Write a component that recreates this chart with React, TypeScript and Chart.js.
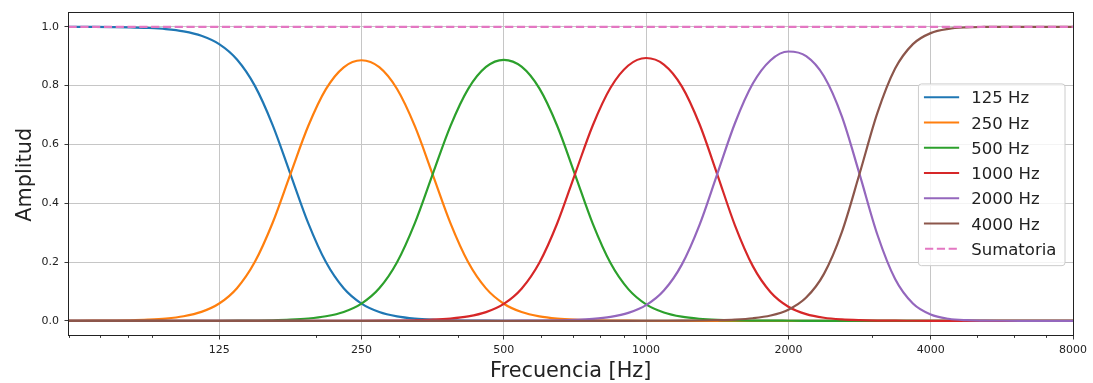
import React, { useEffect, useRef } from 'react';
import { Chart, registerables } from 'chart.js';

Chart.register(...registerables);

// ---------- data ----------
// frequency axis (Hz): 60 Hz, then 1/8-octave steps from 62.5 Hz up to 8000 Hz
const FREQS = [
  60,
  62.5, 68.16, 74.33, 81.05, 88.39, 96.39, 105.11, 114.63,
  125, 136.31, 148.65, 162.11, 176.78, 192.78, 210.22, 229.25,
  250, 272.63, 297.3, 324.21, 353.55, 385.55, 420.45, 458.5,
  500, 545.25, 594.6, 648.42, 707.11, 771.11, 840.9, 917.0,
  1000, 1090.5, 1189.2, 1296.8, 1414.2, 1542.2, 1681.8, 1834.0,
  2000, 2181.0, 2378.4, 2593.7, 2828.4, 3084.4, 3363.6, 3668.0,
  4000, 4362.0, 4756.8, 5187.4, 5656.9, 6168.8, 6727.2, 7336.0,
  8000,
];

const BAND_125 = [
  0.9998,
  0.9998, 0.9995, 0.999, 0.9981, 0.9961, 0.9923, 0.9846, 0.9697,
  0.9412, 0.8889, 0.8, 0.6667, 0.5, 0.3332, 0.1998, 0.1109,
  0.0587, 0.0302, 0.0153, 0.0077, 0.0039, 0.0019, 0.001, 0.0005,
  0.0002, 0.0001, 0, 0, 0, 0, 0, 0,
  0, 0, 0, 0, 0, 0, 0, 0,
  0, 0, 0, 0, 0, 0, 0, 0,
  0, 0, 0, 0, 0, 0, 0, 0,
  0,
];

const BAND_250 = [
  0.0002,
  0.0002, 0.0005, 0.001, 0.0019, 0.0039, 0.0077, 0.0154, 0.0303,
  0.0588, 0.111, 0.1998, 0.3327, 0.4981, 0.6616, 0.7879, 0.8623,
  0.8862, 0.8625, 0.7883, 0.662, 0.4981, 0.3322, 0.199, 0.1102,
  0.0581, 0.0298, 0.015, 0.0075, 0.0037, 0.0018, 0.0009, 0.0004,
  0.0002, 0, 0, 0, 0, 0, 0, 0,
  0, 0, 0, 0, 0, 0, 0, 0,
  0, 0, 0, 0, 0, 0, 0, 0,
  0,
];

const BAND_500 = [
  0,
  0, 0, 0, 0, 0, 0, 0, 0,
  0.0002, 0.0005, 0.001, 0.0019, 0.0039, 0.0078, 0.0154, 0.0301,
  0.0585, 0.1105, 0.1992, 0.3323, 0.4982, 0.6622, 0.7889, 0.8635,
  0.8878, 0.8644, 0.7904, 0.6635, 0.4982, 0.3305, 0.1964, 0.1077,
  0.056, 0.0283, 0.014, 0.0069, 0.0033, 0.0016, 0.0008, 0.0004,
  0.0002, 0, 0, 0, 0, 0, 0, 0,
  0, 0, 0, 0, 0, 0, 0, 0,
  0,
];

const BAND_1000 = [
  0,
  0, 0, 0, 0, 0, 0, 0, 0,
  0, 0, 0, 0, 0, 0, 0, 0,
  0.0002, 0.0005, 0.001, 0.0019, 0.0037, 0.0075, 0.0149, 0.0294,
  0.0574, 0.1091, 0.1974, 0.3309, 0.4984, 0.6644, 0.7926, 0.8683,
  0.8938, 0.8717, 0.7984, 0.6694, 0.4984, 0.3239, 0.186, 0.0974,
  0.0479, 0.0226, 0.0103, 0.0046, 0.002, 0.0008, 0.0003, 0.0001,
  0, 0, 0, 0, 0, 0, 0, 0,
  0,
];

const BAND_2000 = [
  0,
  0, 0, 0, 0, 0, 0, 0, 0,
  0, 0, 0, 0, 0, 0, 0, 0,
  0, 0, 0, 0, 0, 0, 0, 0,
  0.0002, 0.0004, 0.0008, 0.0017, 0.0033, 0.0067, 0.0135, 0.0269,
  0.0532, 0.1029, 0.1902, 0.3256, 0.499, 0.6728, 0.8069, 0.8864,
  0.916, 0.9002, 0.8316, 0.696, 0.499, 0.2936, 0.1422, 0.0589,
  0.0215, 0.007, 0.002, 0.0005, 0.0001, 0, 0, 0,
  0,
];

const BAND_4000 = [
  0,
  0, 0, 0, 0, 0, 0, 0, 0,
  0, 0, 0, 0, 0, 0, 0, 0,
  0, 0, 0, 0, 0, 0, 0, 0,
  0, 0, 0, 0, 0, 0, 0, 0,
  0.0001, 0.0002, 0.0005, 0.001, 0.002, 0.0041, 0.0086, 0.018,
  0.0379, 0.079, 0.1597, 0.3008, 0.5, 0.7062, 0.8578, 0.9411,
  0.9785, 0.993, 0.998, 0.9995, 0.9999, 1, 1, 1,
  1,
];

// "Sumatoria" reads as a flat line at 1.0 across the whole axis
const SUM_FREQS = [60, 8000];
const SUM_VALUES = [1.0, 1.0];

const BAND_LABELS = ['125 Hz', '250 Hz', '500 Hz', '1000 Hz', '2000 Hz', '4000 Hz'];
const SUM_LABEL = 'Sumatoria';
const BANDS = [BAND_125, BAND_250, BAND_500, BAND_1000, BAND_2000, BAND_4000];

const X_TICKS = [125, 250, 500, 1000, 2000, 4000, 8000];
const X_MINOR_TICKS = [60, 70, 80, 90, 200, 300, 400, 600, 700, 800, 900, 3000, 5000, 6000, 7000];
const Y_TICKS = [0, 0.2, 0.4, 0.6, 0.8, 1.0];
const X_MIN = 60;
const X_MAX = 8000;
const Y_MIN = -0.05;
const Y_MAX = 1.05;

const X_TITLE = 'Frecuencia [Hz]';
const Y_TITLE = 'Amplitud';

// ---------- style ----------
const COLORS = ['#1f77b4', '#ff7f0e', '#2ca02c', '#d62728', '#9467bd', '#8c564b', '#e377c2'];
const FONT = '"DejaVu Sans", "Liberation Sans", sans-serif';
const TEXT = '#222222';
const GRID = '#c6c6c6';
const LW = 2.2;
const DASH = [8.2, 3.6];

const overlayPlugin = {
  id: 'overlay',
  afterDatasetsDraw(chart: any) {
    const { ctx, chartArea: a, scales } = chart;
    const xs = scales.x;
    ctx.save();

    // minor ticks on x axis
    ctx.strokeStyle = TEXT;
    ctx.lineWidth = 0.9;
    for (const v of X_MINOR_TICKS) {
      const px = Math.round(xs.getPixelForValue(v)) + 0.5;
      ctx.beginPath();
      ctx.moveTo(px, a.bottom);
      ctx.lineTo(px, a.bottom + 2.4);
      ctx.stroke();
    }

    // frame (spines)
    ctx.lineWidth = 1;
    ctx.strokeStyle = TEXT;
    const l = Math.floor(a.left) + 0.5;
    const t = Math.floor(a.top) + 0.5;
    const r = Math.floor(a.right) + 0.5;
    const b = Math.floor(a.bottom) + 0.5;
    ctx.strokeRect(l, t, r - l, b - t);

    // axis titles
    ctx.fillStyle = TEXT;
    ctx.font = `20.8px ${FONT}`;
    ctx.textAlign = 'center';
    ctx.textBaseline = 'alphabetic';
    ctx.fillText(X_TITLE, (a.left + a.right) / 2, a.bottom + 41.8);
    ctx.save();
    ctx.translate(a.left - 37.8, (a.top + a.bottom) / 2 + 1);
    ctx.rotate(-Math.PI / 2);
    ctx.fillText(Y_TITLE, 0, 0);
    ctx.restore();

    // legend (center right, inside the axes)
    const fs = 16.5;
    ctx.font = `${fs}px ${FONT}`;
    const items = chart.data.datasets.map((d: any) => ({
      label: d.label,
      color: d.borderColor,
      dash: d.borderDash || [],
    }));
    const pad = 0.4 * fs;
    const handleLen = 2 * fs;
    const handleGap = 0.8 * fs;
    const rowH = 17;
    const spacing = 0.5 * fs;
    const pitch = rowH + spacing;
    let textW = 0;
    for (const it of items) textW = Math.max(textW, ctx.measureText(it.label).width);
    const w = pad * 2 + handleLen + handleGap + textW + 2;
    const h = items.length * rowH + (items.length - 1) * spacing + 2 * pad;
    const right = a.right - 8;
    const left = right - w;
    const top = (a.top + a.bottom) / 2 - h / 2 + 1;

    ctx.beginPath();
    if ((ctx as any).roundRect) (ctx as any).roundRect(left, top, w, h, 3);
    else ctx.rect(left, top, w, h);
    ctx.fillStyle = 'rgba(255,255,255,0.8)';
    ctx.fill();
    ctx.strokeStyle = '#cccccc';
    ctx.lineWidth = 1;
    ctx.stroke();

    items.forEach((it: any, i: number) => {
      const ly = top + pad + 6.7 + i * pitch;
      const by = top + pad + 12.7 + i * pitch;
      ctx.save();
      ctx.strokeStyle = it.color;
      ctx.lineWidth = LW;
      ctx.setLineDash(it.dash);
      ctx.lineCap = it.dash.length ? 'butt' : 'square';
      ctx.beginPath();
      ctx.moveTo(left + pad, ly);
      ctx.lineTo(left + pad + handleLen, ly);
      ctx.stroke();
      ctx.restore();
      ctx.fillStyle = TEXT;
      ctx.textAlign = 'left';
      ctx.textBaseline = 'alphabetic';
      ctx.fillText(it.label, left + pad + handleLen + handleGap, by);
    });

    ctx.restore();
  },
};

export default function App() {
  const canvasRef = useRef<HTMLCanvasElement | null>(null);

  useEffect(() => {
    const canvas = canvasRef.current;
    if (!canvas) return;

    const bandSets = BANDS.map((vals, i) => ({
      label: BAND_LABELS[i],
      data: FREQS.map((f, k) => ({ x: f, y: vals[k] })),
      borderColor: COLORS[i],
      backgroundColor: COLORS[i],
      borderWidth: LW,
      pointRadius: 0,
      fill: false,
      cubicInterpolationMode: 'monotone' as const,
      order: -i,
    }));
    const sumSet = {
      label: SUM_LABEL,
      data: SUM_FREQS.map((f, k) => ({ x: f, y: SUM_VALUES[k] })),
      borderColor: COLORS[6],
      backgroundColor: COLORS[6],
      borderWidth: LW,
      borderDash: DASH,
      pointRadius: 0,
      fill: false,
      order: -6,
    };

    const chart = new Chart(canvas, {
      type: 'line',
      data: { datasets: [...bandSets, sumSet] as any },
      options: {
        animation: false,
        responsive: false,
        devicePixelRatio: 1,
        events: [],
        layout: { padding: { left: 0, right: 20, top: 9.5, bottom: 0 } },
        plugins: { legend: { display: false }, tooltip: { enabled: false } },
        scales: {
          x: {
            type: 'logarithmic',
            min: X_MIN,
            max: X_MAX,
            afterBuildTicks: (s: any) => {
              s.ticks = X_TICKS.map((v) => ({ value: v }));
            },
            afterFit: (s: any) => {
              s.height = 47.5;
            },
            ticks: {
              autoSkip: false,
              maxRotation: 0,
              minRotation: 0,
              padding: 4.2,
              color: TEXT,
              font: { family: FONT, size: 11 },
              callback: (v: any) => String(v),
            },
            grid: { color: GRID, lineWidth: 1, tickColor: TEXT, tickLength: 4, tickWidth: 0.9 },
            border: { display: false },
          },
          y: {
            type: 'linear',
            min: Y_MIN,
            max: Y_MAX,
            afterBuildTicks: (s: any) => {
              s.ticks = Y_TICKS.map((v) => ({ value: v }));
            },
            afterFit: (s: any) => {
              s.width = 68.5;
            },
            ticks: {
              padding: 5.5,
              color: TEXT,
              font: { family: FONT, size: 11 },
              callback: (v: any) => Number(v).toFixed(1),
            },
            grid: { color: GRID, lineWidth: 1, tickColor: TEXT, tickLength: 4, tickWidth: 0.9 },
            border: { display: false },
          },
        },
      } as any,
      plugins: [overlayPlugin],
    });

    return () => chart.destroy();
  }, []);

  return (
    <div style={{ position: 'absolute', left: 0, top: 0, width: 1093, height: 383, background: '#ffffff' }}>
      <canvas ref={canvasRef} width={1093} height={383} style={{ display: 'block' }} />
    </div>
  );
}
